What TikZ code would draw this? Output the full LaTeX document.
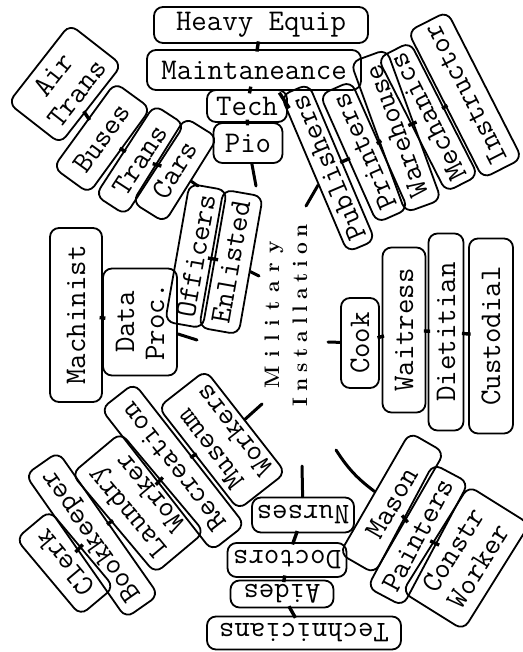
\documentclass[tikz,border=0pt]{standalone}
\usepackage{tikz}
\newcommand{\typew}{\fontsize{30}{30}\selectfont\ttfamily}
\newcommand{\hubfont}{\fontsize{21}{28}\selectfont\rmfamily\bfseries}
\makeatletter
\newcommand{\spreadword}[2]{\@tfor\spr@tok:=#2\do{\spr@tok\kern#1}\unkern}
\makeatother
\tikzset{
    tag/.style={draw,line width=1.8pt,rounded corners=9pt,inner sep=1pt,align=center,font=\typew},
    sz/.style 2 args={minimum width=#1pt,minimum height=#2pt},
    link/.style={draw,line width=3.4pt,shorten <=-2.5pt,shorten >=-2.5pt},
    stalk/.style={draw,line width=3pt,line cap=round},
    hub/.style={align=center,font=\hubfont,inner sep=0pt},
}

\begin{document}
\begin{tikzpicture}[x=1pt,y=-1pt]
    \useasboundingbox (0,0) rectangle (522,652);
    \node[hub,rotate=90] (hub) at (286,315) {\spreadword{9pt}{Military}\\\spreadword{5.9pt}{Installation}};

    % top
    \node[tag,sz={214}{36}] (heavy) at (261,25) {Heavy Equip};
    \node[tag,sz={214}{40}] (maint) at (254,70) {Maintaneance};
    \node[tag,sz={80}{32}] (tech) at (247,106) {Tech};
    \node[tag,sz={69}{40}] (pio) at (248,143) {Pio};

    % upper left
    \node[tag,sz={100}{66},rotate=52] (airtrans) at (65,84) {Air\\Trans};
    \node[tag,sz={105}{44},rotate=54] (buses) at (102,138) {Buses};
    \node[tag,sz={108}{36},rotate=57] (trans) at (140,160) {Trans};
    \node[tag,sz={100}{38},rotate=58] (cars) at (175,170) {Cars};
    \node[tag,sz={140}{38},rotate=80] (officers) at (196,256) {Officers};
    \node[tag,sz={140}{40},rotate=80] (enlisted) at (231,262) {Enlisted};

    % left
    \node[tag,sz={174}{52},rotate=90] (machinist) at (76,315) {Machinist};
    \node[tag,sz={107}{74},rotate=90] (dataproc) at (140,322) {Data\\Proc.};

    % lower left
    \node[tag,sz={130}{60},rotate=128] (museum) at (222,440) {Museum\\Workers};
    \node[tag,sz={180}{42},rotate=128] (recreation) at (173,467) {Recreation};
    \node[tag,sz={130}{64},rotate=130] (laundry) at (138,503) {Laundry\\Worker};
    \node[tag,sz={175}{40},rotate=125] (bookkeeper) at (92,535) {Bookkeeper};
    \node[tag,sz={100}{44},rotate=130] (clerk) at (65,563) {Clerk};

    % bottom
    \node[tag,sz={102}{35},rotate=180] (nurses) at (303,515) {Nurses};
    \node[tag,sz={119}{34},rotate=180] (doctors) at (287,560) {Doctors};
    \node[tag,sz={103}{27},rotate=180] (aides) at (282,594) {Aides};
    \node[tag,sz={194}{33},rotate=180] (technicians) at (304,633) {Technicians};

    % lower right
    \node[tag,sz={140}{40},rotate=60] (mason) at (392,503) {Mason};
    \node[tag,sz={140}{40},rotate=62] (painters) at (418,535) {Painters};
    \node[tag,sz={125}{72},rotate=58] (constr) at (466,558) {Constr\\Worker};

    % right
    \node[tag,sz={90}{38},rotate=90] (cook) at (360,343) {Cook};
    \node[tag,sz={165}{43},rotate=90] (waitress) at (404,330) {Waitress};
    \node[tag,sz={197}{35},rotate=90] (dietitian) at (446,332) {Dietitian};
    \node[tag,sz={195}{44},rotate=90] (custodial) at (491,336) {Custodial};

    % upper right
    \node[tag,sz={170}{30},rotate=113] (publishers) at (328,168) {Publishers};
    \node[tag,sz={140}{34},rotate=114] (printers) at (364,152) {Printers};
    \node[tag,sz={160}{38},rotate=110] (warehouse) at (396,131) {Warehouse};
    \node[tag,sz={150}{36},rotate=117] (mechanics) at (428,117) {Mechanics};
    \node[tag,sz={165}{44},rotate=117] (instructor) at (465,95) {Instructor};

    \coordinate (pioend) at (256,186);
    \coordinate (carsend) at (198,186);
    \coordinate (enlistedend) at (259,276);
    \coordinate (dataend) at (197,340);
    \coordinate (museumend) at (262,404);
    \coordinate (nursesend) at (302,466);
    \coordinate (masonend) at (336,450);
    \coordinate (cookend) at (328,342);
    \coordinate (publishersend) at (306,206);

    \path
    (heavy) edge[link] (maint)
    (maint) edge[link] (tech)
    (tech) edge[link] (pio)
    (tech.east) edge[link] (publishers)
    (airtrans) edge[link] (buses)
    (buses) edge[link] (trans)
    (trans) edge[link] (cars)
    (officers) edge[link] (enlisted)
    (machinist) edge[link] (dataproc)
    (museum) edge[link] (recreation)
    (recreation) edge[link] (laundry)
    (laundry) edge[link] (bookkeeper)
    (bookkeeper) edge[link] (clerk)
    (nurses) edge[link] (doctors)
    (doctors) edge[link] (aides)
    (aides) edge[link] (technicians)
    (mason) edge[link] (painters)
    (painters) edge[link] (constr)
    (cook) edge[link] (waitress)
    (waitress) edge[link] (dietitian)
    (dietitian) edge[link] (custodial)
    (publishers) edge[link] (printers)
    (printers) edge[link] (warehouse)
    (warehouse) edge[link] (mechanics)
    (mechanics) edge[link] (instructor);

    \path
    (pio) edge[stalk] (pioend)
    (cars) edge[stalk] (carsend)
    (enlisted) edge[stalk] (enlistedend)
    (dataproc) edge[stalk] (dataend)
    (museum) edge[stalk] (museumend)
    (nurses) edge[stalk] (nursesend)
    (mason) edge[stalk,bend left=10] (masonend)
    (cook) edge[stalk] (cookend)
    (publishers) edge[stalk] (publishersend);
\end{tikzpicture}
\end{document}
